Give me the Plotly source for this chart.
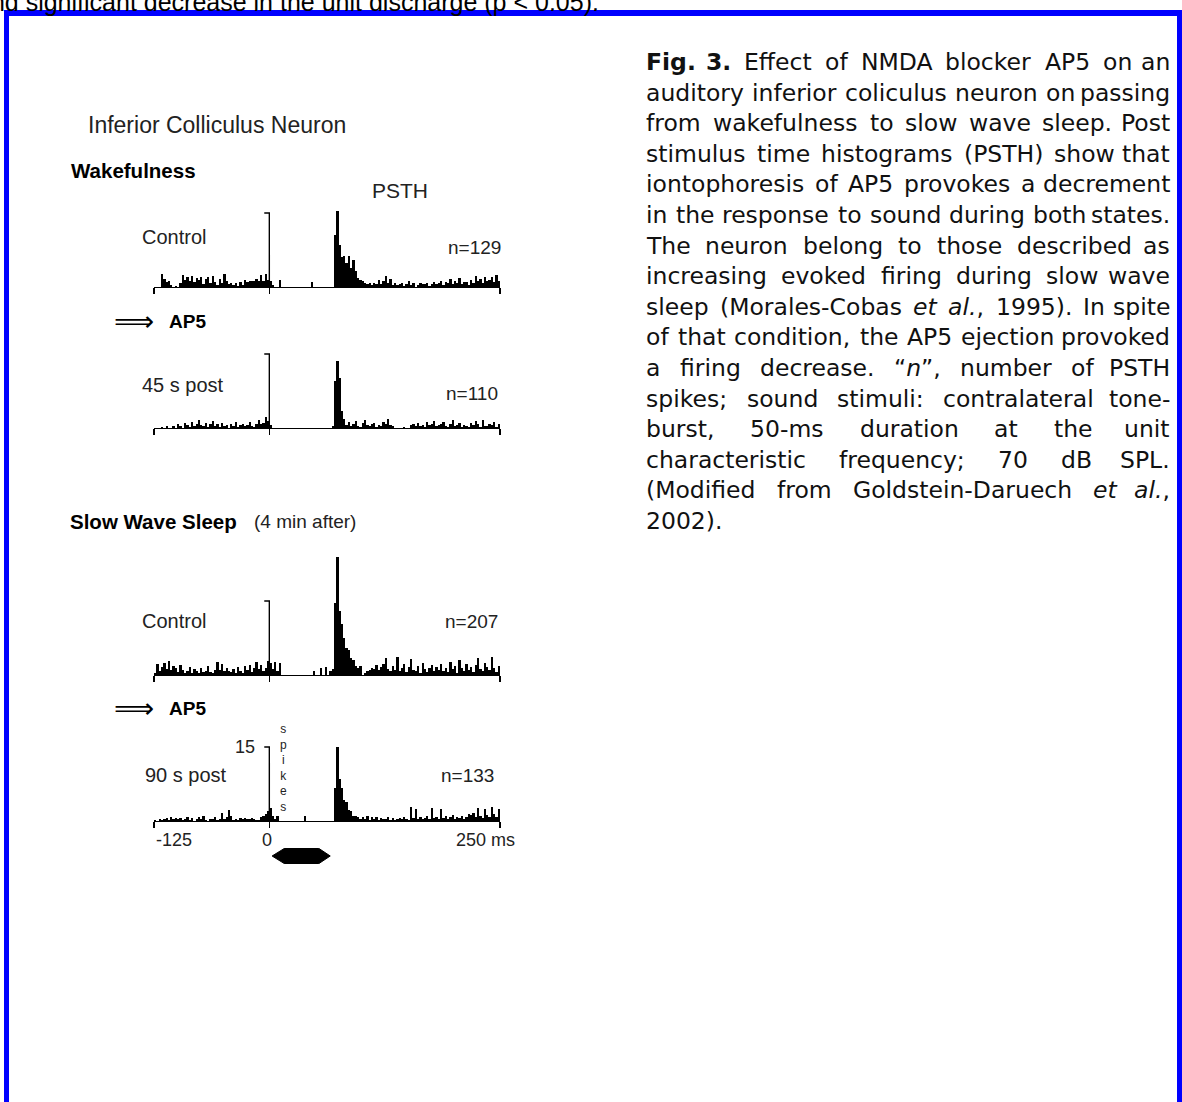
import re
import plotly.graph_objects as go

W, H = 1182, 1102

# ---------------- data ----------------
BIN_MS = 2.5
T_START, T_END = -125, 250
SCALE_SPIKES = 15

WAKE_CONTROL = [
    0, 0, 0, 2.6, 1.6, 1.0, 1.2, 0.4, 0, 0.3, 0, 0.8, 2.4, 1.4, 2.0, 1.2, 2.2, 1.0, 1.8, 1.4, 2.0, 0.6, 1.6, 2.0, 0.9,
    2.2, 1.0, 0.4, 1.6, 0.8, 2.6, 1.2, 0.7, 0.9, 0.5, 0.9, 0.3, 1.0, 0.4, 1.5, 1.1, 1.2, 1.2, 1.3, 1.6, 1.2, 2.4, 1.3, 2.6, 1.5,
    1.2, 0.4, 0, 0, 1.4, 0, 0, 0, 0, 0, 0, 0, 0, 0, 0, 0, 0, 0, 1.0, 0, 0, 0, 0, 0, 0,
    0, 0, 0, 10.5, 15.5, 8.5, 6.0, 6.2, 4.8, 6.2, 3.8, 5.5, 3.2, 1.8, 1.5, 1.2, 0.9, 0.6, 0.8, 0.5, 0.9, 0.7, 1.5, 0.6, 1.2,
    2.2, 0.8, 1.6, 0.5, 0.9, 0.4, 0.6, 0.9, 0.3, 0.7, 1.2, 0.5, 0.8, 0, 0.5, 0.9, 0.7, 0.7, 0.8, 0.2, 0.6, 1.0, 0.7, 0.8, 1.3,
    0.5, 1.0, 0.9, 1.6, 0.7, 1.2, 0.9, 1.8, 0.6, 1.1, 1.0, 0.4, 1.4, 0.9, 2.2, 1.2, 1.6, 0.9, 2.0, 1.2, 1.4, 2.0, 1.0, 2.4, 1.2,
]
WAKE_AP5 = [
    0, 0, 0, 0.3, 0, 0.5, 0, 0, 0.4, 0, 0.8, 0.5, 0, 1.0, 0.6, 0.3, 1.2, 0.5, 0.8, 1.6, 0.6, 0.4, 1.0, 0.3, 0.8,
    1.4, 0.5, 0.9, 0.3, 1.1, 0.4, 0.6, 0, 0.8, 0.5, 1.2, 0.3, 0.6, 0.9, 0.4, 0.7, 1.2, 0.5, 0.3, 0.9, 1.6, 0.8, 1.0, 2.2, 1.4,
    0.6, 0, 0, 0, 0, 0, 0, 0, 0, 0, 0, 0, 0, 0, 0, 0, 0, 0, 0, 0, 0, 0, 0, 0, 0,
    0, 0, 0.4, 9.5, 13.6, 10.2, 3.5, 1.8, 0.6, 1.2, 0.4, 0.9, 1.4, 0.5, 0.3, 1.0, 1.6, 0.6, 0.4, 0.8, 1.1, 0.3, 0.7, 0.5, 1.2,
    0.8, 1.8, 0.6, 0.4, 0, 0, 0, 0, 0.3, 0, 0, 0.6, 0.9, 0.4, 1.1, 0.5, 0.7, 0.3, 1.3, 0.6, 0.8, 1.5, 0.4, 0.6, 0.9,
    1.2, 0.5, 0.3, 0.8, 1.6, 0.4, 0.6, 1.1, 0.3, 0.7, 0.5, 0.2, 1.0, 0.6, 1.4, 0.8, 0.3, 1.7, 0.5, 0.4, 0.9, 0.6, 1.2, 0.3, 0.8,
]
SWS_CONTROL = [
    0.4, 2.2, 0.8, 1.6, 2.4, 1.2, 2.8, 1.0, 1.8, 1.4, 0.6, 2.0, 1.0, 0.5, 0.8, 1.6, 0.4, 1.2, 0.8, 0.5, 1.5, 0.6, 0.9, 1.8, 0.7,
    0.5, 1.1, 2.6, 1.0, 2.2, 0.8, 1.4, 0.9, 0.6, 1.2, 0.5, 1.6, 0.8, 0.4, 1.8, 1.0, 2.0, 0.6, 1.4, 2.6, 1.2, 2.0, 0.8, 1.4, 2.8,
    2.4, 1.2, 2.6, 0.8, 2.4, 0, 0, 0, 0, 0, 0, 0, 0, 0, 0, 0, 0, 0, 0, 0.8, 0, 0, 1.4, 0, 1.6,
    0, 0.8, 1.2, 14.5, 24, 13, 10.4, 7.6, 5.5, 5.0, 3.5, 3.0, 1.8, 1.5, 1.8, 0, 0.4, 0.8, 1.0, 1.4, 1.2, 2.0, 1.0, 1.6, 2.2,
    3.4, 1.2, 0.8, 1.8, 1.0, 3.6, 0.8, 1.4, 2.2, 0.6, 1.6, 3.2, 1.0, 0.8, 1.8, 0.4, 2.4, 1.2, 0.6, 1.4, 2.0, 0.8, 1.6, 1.0, 2.2,
    0.8, 1.4, 0.6, 2.6, 1.2, 1.8, 0.5, 3.0, 1.4, 0.9, 2.2, 1.0, 1.6, 0.6, 2.0, 3.4, 1.2, 0.8, 2.4, 1.6, 1.0, 3.6, 1.4, 0.6, 1.8,
]
SWS_AP5 = [
    0.3, 0, 0.5, 0.2, 0.4, 0.6, 0.3, 0.8, 0.5, 0.7, 0.4, 0.6, 0.2, 0.5, 0.8, 0.3, 0.6, 0, 0.4, 0.9, 0.5, 1.0, 0.3, 0, 0.5,
    0.4, 0.9, 0.2, 0.4, 1.6, 0.5, 0.8, 2.2, 1.0, 0.3, 0.5, 0.2, 0.6, 0.4, 0.6, 0.5, 0.4, 0.7, 0.5, 0.3, 0.2, 0.8, 1.0, 1.4, 2.0,
    2.7, 1.1, 0.4, 1.1, 0, 0, 0, 0, 0, 0, 0, 0, 0, 0, 0, 1.1, 0, 0, 0, 0, 0, 0, 0, 0, 0,
    0, 0, 0, 6.6, 15, 8.6, 6.6, 4.2, 3.8, 2.2, 2.0, 1.1, 1.0, 0.8, 0.5, 0.9, 0.4, 1.0, 0.3, 0.8, 0.5, 0.9, 0.3, 0.6, 0.4,
    0.5, 0.8, 0.3, 0.6, 0.2, 0.5, 0.7, 0.4, 0.9, 0.5, 0.3, 2.8, 0.6, 2.4, 0.5, 0.8, 0.4, 0.6, 1.0, 0.5, 2.6, 0.6, 0.8, 0.4, 2.4,
    0.6, 1.0, 0.5, 0.8, 1.2, 0.4, 0.9, 0.6, 1.1, 0.5, 0.8, 1.4, 1.2, 1.6, 0.8, 2.6, 1.0, 0.7, 2.4, 1.2, 0.9, 2.8, 1.5, 0.8, 2.4,
]

PANEL_NAMES = ["Control", "45 s post", "Control", "90 s post"]
SPIKE_COUNTS = ["n=129", "n=110", "n=207", "n=133"]
X_TICKS = [-125, 0, 250]
X_TICK_LABELS = ["-125", "0", "250 ms"]
STIM_MS = [3, 17, 53, 66]   # stimulus marker: onset tip, plateau start, plateau end, offset tip

TOP_TEXT = "and significant decrease in the unit discharge (p < 0.05)."
FIG_TITLE = "Inferior Colliculus Neuron"
STATE_1 = "Wakefulness"
STATE_2 = "Slow Wave Sleep"
STATE_2_NOTE = "(4 min after)"
DRUG = "AP5"

CAPTION_LINES = [
    "<b>Fig.</b> <b>3.</b> Effect of NMDA blocker AP5 on an",
    "auditory inferior coliculus neuron on passing",
    "from wakefulness to slow wave sleep. Post",
    "stimulus time histograms (PSTH) show that",
    "iontophoresis of AP5 provokes a decrement",
    "in the response to sound during both states.",
    "The neuron belong to those described as",
    "increasing evoked firing during slow wave",
    "sleep (Morales-Cobas <i>et</i> <i>al.</i>, 1995). In spite",
    "of that condition, the AP5 ejection provoked",
    "a firing decrease. \u201c<i>n</i>\u201d, number of PSTH",
    "spikes; sound stimuli: contralateral tone-",
    "burst, 50-ms duration at the unit",
    "characteristic frequency; 70 dB SPL.",
    "(Modified from Goldstein-Daruech <i>et</i> <i>al.</i>,",
    "2002).",
]

# ---------------- geometry helpers ----------------
def px(x):
    return x / W


def py(y):
    return 1 - y / H


X_LEFT, X_RIGHT = 154, 500
PX_PER_SPIKE = 74 / 15
BASELINES = [287, 428, 675, 821]
YMAX = 26
SCALE_TICK_MS = 5.5
FIG_FONT = "Liberation Sans, Arial, sans-serif"
CAP_FONT = "DejaVu Sans, Verdana, sans-serif"
INK = "#1a1a1a"

fig = go.Figure()
layout = {}
annotations = []


def label(text, x, y, size, xanchor="left", color=INK, family=FIG_FONT, **kw):
    annotations.append(dict(text=text, x=px(x), y=py(y), xref="paper", yref="paper",
                            xanchor=xanchor, yanchor="middle", showarrow=False,
                            font=dict(family=family, size=size, color=color), **kw))


centers = [T_START + BIN_MS * (k + 0.5) for k in range(len(WAKE_CONTROL))]
panels = [WAKE_CONTROL, WAKE_AP5, SWS_CONTROL, SWS_AP5]
for i, (vals, base) in enumerate(zip(panels, BASELINES), start=1):
    key = "" if i == 1 else str(i)
    xa, ya = "x" + key, "y" + key
    fig.add_trace(go.Bar(x=centers, y=vals, width=BIN_MS, xaxis=xa, yaxis=ya,
                         marker=dict(color="black", line=dict(width=0)),
                         showlegend=False, hoverinfo="skip"))
    fig.add_trace(go.Scatter(x=[-SCALE_TICK_MS, 0, 0], y=[SCALE_SPIKES, SCALE_SPIKES, 0],
                             mode="lines", line=dict(color="black", width=1.4),
                             xaxis=xa, yaxis=ya, showlegend=False, hoverinfo="skip"))
    top = base - YMAX * PX_PER_SPIKE
    layout["xaxis" + key] = dict(domain=[px(X_LEFT), px(X_RIGHT)], range=[T_START, T_END],
                                 anchor=ya, showline=True, linecolor="black", linewidth=1.4,
                                 ticks="outside", tickvals=X_TICKS, ticklen=6, tickwidth=1.4,
                                 tickcolor="black", showticklabels=False, showgrid=False,
                                 zeroline=False, fixedrange=True)
    layout["yaxis" + key] = dict(domain=[py(base), py(top)], range=[0, YMAX], anchor=xa,
                                 visible=False, fixedrange=True)

# stimulus marker (hexagon) under the last panel
s0, s1, s2, s3 = STIM_MS
fig.add_trace(go.Scatter(x=[s0, s1, s2, s3, s2, s1, s0], y=[0, 1, 1, 0, -1, -1, 0],
                         fill="toself", fillcolor="black", mode="lines",
                         line=dict(color="black", width=1), xaxis="x5", yaxis="y5",
                         showlegend=False, hoverinfo="skip"))
layout["xaxis5"] = dict(domain=[px(X_LEFT), px(X_RIGHT)], range=[T_START, T_END], anchor="y5",
                        visible=False, fixedrange=True)
layout["yaxis5"] = dict(domain=[py(864), py(848)], range=[-1, 1], anchor="x5",
                        visible=False, fixedrange=True)

# ---------------- figure texts ----------------
label(TOP_TEXT, -25, 2, 25, color="black")
label(FIG_TITLE, 86, 125, 23, color="#222")
label("<b>" + STATE_1 + "</b>", 69, 170, 20.5, color="black")
label("PSTH", 400, 191, 21, xanchor="center", color="#222")
label("<b>" + STATE_2 + "</b>", 68, 522, 20.5, color="black")
label(STATE_2_NOTE, 252, 522, 19, color="#222")

NAME_POS = [(140, 237), (140, 385), (140, 621), (143, 775)]
COUNT_POS = [(503, 247), (500, 393), (500, 621), (496, 775)]
for name, cnt, (nx, ny), (cx, cy) in zip(PANEL_NAMES, SPIKE_COUNTS, NAME_POS, COUNT_POS):
    label(name, nx, ny, 20, color="#222")
    label(cnt, cx, cy, 19, xanchor="right", color="#222")

for ay in (321, 708):
    label("\u27f9", 112, ay, 28, color="black", family="DejaVu Sans")
    label("<b>" + DRUG + "</b>", 167, ay, 19, color="black")

# y scale label and vertical "spikes"
annotations.append(dict(text=str(SCALE_SPIKES), x=0, y=SCALE_SPIKES, xref="x4", yref="y4",
                        xanchor="right", yanchor="middle", xshift=-12, showarrow=False,
                        font=dict(family=FIG_FONT, size=18, color="#222")))
label("<br>".join("spikes"), 283, 768, 12, xanchor="center", color="#222")

# x tick labels on last panel
for val, txt in zip(X_TICKS, X_TICK_LABELS):
    anchor = "left" if val == X_TICKS[0] else ("right" if val == X_TICKS[-1] else "center")
    shift = 17 if val == X_TICKS[-1] else (-2 if val == X_TICKS[1] else 0)
    annotations.append(dict(text=txt, x=val, y=py(840), xref="x4", yref="paper",
                            xanchor=anchor, yanchor="middle", xshift=shift, showarrow=False,
                            font=dict(family=FIG_FONT, size=18, color="#222")))

# ---------------- caption (justified) ----------------
REG = {' ': 651, '(': 799, ')': 799, ',': 651, '-': 739, '.': 651, ':': 690, ';': 690,
       '\u201c': 1061, '\u201d': 1061,
       'A': 1401, 'B': 1405, 'C': 1430, 'D': 1577, 'E': 1294, 'F': 1178, 'G': 1587, 'H': 1540,
       'I': 604, 'J': 604, 'K': 1343, 'L': 1141, 'M': 1767, 'N': 1532, 'O': 1612, 'P': 1235,
       'Q': 1612, 'R': 1423, 'S': 1300, 'T': 1251, 'U': 1499, 'V': 1401, 'W': 2025, 'X': 1403,
       'Y': 1251, 'Z': 1403,
       'a': 1255, 'b': 1300, 'c': 1126, 'd': 1300, 'e': 1260, 'f': 721, 'g': 1300, 'h': 1298,
       'i': 569, 'j': 569, 'k': 1186, 'l': 569, 'm': 1995, 'n': 1298, 'o': 1253, 'p': 1300,
       'q': 1300, 'r': 842, 's': 1067, 't': 803, 'u': 1298, 'v': 1212, 'w': 1675, 'x': 1212,
       'y': 1212, 'z': 1075}
for d in "0123456789":
    REG[d] = 1303

CAP_SIZE = 23.5
CAP_LEFT, CAP_RIGHT = 644, 1172
CAP_TOP, CAP_STEP = 62, 30.6


def word_width(word):
    bold = "<b>" in word
    plain = re.sub(r"<[^>]+>", "", word)
    w = sum(REG.get(c, 1200) for c in plain) / 2048 * CAP_SIZE
    return w * (1.12 if bold else 1.0)


for li, line in enumerate(CAPTION_LINES):
    words = line.split(" ")
    widths = [word_width(w) for w in words]
    last = li == len(CAPTION_LINES) - 1
    space = REG[' '] / 2048 * CAP_SIZE
    if last or len(words) == 1:
        gap = space
    else:
        gap = max(space * 0.6, (CAP_RIGHT - CAP_LEFT - sum(widths)) / (len(words) - 1))
    x = CAP_LEFT
    y = CAP_TOP + CAP_STEP * li
    for wi, (w, ww) in enumerate(zip(words, widths)):
        if not last and wi == len(words) - 1 and len(words) > 1:
            label(w, CAP_RIGHT, y, CAP_SIZE, xanchor="right", color="#111", family=CAP_FONT)
        else:
            label(w, x, y, CAP_SIZE, xanchor="left", color="#111", family=CAP_FONT)
        x += ww + gap

# ---------------- blue frame ----------------
BLUE = "#0000ff"
shapes = [
    dict(type="rect", xref="paper", yref="paper", x0=px(4), x1=px(W), y0=py(16), y1=py(10),
         fillcolor=BLUE, line=dict(width=0), layer="above"),
    dict(type="rect", xref="paper", yref="paper", x0=px(4), x1=px(9), y0=py(H), y1=py(10),
         fillcolor=BLUE, line=dict(width=0), layer="above"),
    dict(type="rect", xref="paper", yref="paper", x0=px(1177), x1=px(W), y0=py(H), y1=py(10),
         fillcolor=BLUE, line=dict(width=0), layer="above"),
]

fig.update_layout(**layout)
fig.update_layout(width=W, height=H, autosize=False, margin=dict(l=0, r=0, t=0, b=0, pad=0),
                  paper_bgcolor="white", plot_bgcolor="rgba(0,0,0,0)", showlegend=False,
                  bargap=0, annotations=annotations, shapes=shapes)

fig.write_html("out.html", include_plotlyjs=True,
               config={"displayModeBar": False, "staticPlot": True},
               post_script="document.body.style.margin='0px';document.body.style.overflow='hidden';")
